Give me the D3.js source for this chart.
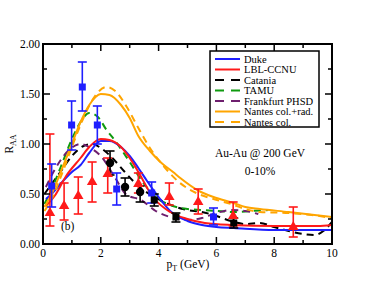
<!DOCTYPE html>
<html><head><meta charset="utf-8">
<script src="https://cdn.jsdelivr.net/npm/d3@7"></script>
<style>html,body{margin:0;padding:0;background:#fff;}svg{display:block;}text{font-family:"Liberation Serif","DejaVu Serif",serif;}</style>
</head><body><svg id="c" width="374" height="289"></svg>
<script>
// ---- data ----
const xTicks = [0,2,4,6,8,10];
const yTicks = [0,0.5,1,1.5,2];
const legendNames = ["Duke","LBL-CCNU","Catania","TAMU","Frankfurt PHSD","Nantes col.+rad.","Nantes col."];
// model curves [pT, RAA]
const duke = [[0.1,0.45],[0.3,0.5],[0.6,0.6],[1.0,0.72],[1.3,0.79],[1.6,0.91],[2.0,1.03],[2.3,1.03],[2.7,0.97],[3.0,0.88],[3.3,0.76],[3.6,0.63],[4.0,0.47],[4.4,0.33],[5.0,0.23],[5.5,0.19],[6.0,0.17],[6.6,0.16],[8,0.14],[10,0.14]];
const lbl = [[0.1,0.38],[0.4,0.48],[0.8,0.68],[1.3,0.86],[1.6,0.97],[2.0,1.05],[2.3,1.04],[2.7,0.97],[3.0,0.86],[3.3,0.72],[3.8,0.47],[4.4,0.32],[5.0,0.25],[5.6,0.21],[6.5,0.19],[8,0.18],[9.5,0.18],[10,0.19]];
const catania = [[0.05,0.5],[0.3,0.6],[0.6,0.72],[1.0,0.88],[1.4,0.98],[1.7,1.0],[2.0,0.96],[2.4,0.86],[2.8,0.73],[3.3,0.58],[3.8,0.48],[4.2,0.42],[4.6,0.37],[5.0,0.34],[5.5,0.32],[6.0,0.28],[6.5,0.23],[7.0,0.20],[7.5,0.21],[8.0,0.17],[8.5,0.13],[9.0,0.10],[9.4,0.09],[9.7,0.13],[10,0.22]];
const tamu = [[0.05,0.40],[0.3,0.55],[0.6,0.76],[1.0,1.05],[1.3,1.22],[1.6,1.31],[1.9,1.27],[2.2,1.14],[2.5,1.03],[3.0,0.82],[3.5,0.60],[3.9,0.47],[4.4,0.39],[5.0,0.35],[5.5,0.34],[6.0,0.33],[6.6,0.32],[7.2,0.33],[7.8,0.34]];
const phsd = [[0.1,0.57],[0.4,0.74],[0.9,0.94],[1.3,1.0],[1.7,0.95],[2.0,0.88],[2.5,0.66],[2.9,0.49],[3.4,0.44],[3.9,0.33],[4.4,0.27],[5.0,0.24],[5.5,0.26],[6.0,0.31],[6.5,0.34],[7.0,0.33],[7.45,0.30]];
const nantesColRad = [[0.05,0.37],[0.3,0.5],[0.6,0.71],[1.0,1.0],[1.3,1.22],[1.6,1.39],[2.0,1.50],[2.3,1.49],[2.7,1.39],[3.0,1.26],[3.3,1.08],[3.7,0.93],[4.1,0.81],[4.5,0.72],[4.75,0.66],[5.4,0.53],[5.9,0.47],[6.6,0.41],[7.0,0.37],[7.5,0.35],[8.5,0.32],[10,0.27]];
const nantesCol = [[0.05,0.33],[0.3,0.45],[0.6,0.66],[1.0,0.97],[1.4,1.26],[1.8,1.48],[2.2,1.57],[2.5,1.53],[2.9,1.37],[3.3,1.16],[3.7,0.96],[4.2,0.77],[4.7,0.62],[5.3,0.51],[5.9,0.45],[6.5,0.40],[7.0,0.35],[7.5,0.32],[8.5,0.31],[9.3,0.29],[10,0.26]];
// experimental data [pT, RAA, low, high]
const blueSquares = [[0.3,0.58,0.37,0.80],[0.99,1.19,0.94,1.43],[1.36,1.57,1.33,1.82],[1.88,1.19,1.0,1.38],[2.55,0.55,0.39,0.71],[3.76,0.51,0.41,0.62],[5.9,0.27,0.19,0.36]];
const redTriangles = [[0.24,0.31,0.18,1.10],[0.73,0.38,0.24,0.61],[1.22,0.48,0.30,0.67],[1.70,0.62,0.42,0.82],[2.24,0.70,0.51,0.86],[3.3,0.60,0.51,0.71],[4.37,0.47,0.39,0.61],[5.37,0.42,0.30,0.55],[6.58,0.28,0.18,0.42],[8.66,0.17,0.07,0.37]];
const blackCircles = [[2.32,0.81,0.69,0.93],[2.84,0.57,0.48,0.66],[3.36,0.52,0.42,0.58]];
const blackSquares = [[3.85,0.44,0.38,0.50],[4.6,0.27,0.22,0.31],[6.6,0.21,0.16,0.26]];

// ---- layout ----
const FONT = "Liberation Serif, DejaVu Serif, serif";
const svg = d3.select("#c");
const L=43, R=332, T=44, B=244;
const x = d3.scaleLinear().domain([0,10]).range([L,R]);
const y = d3.scaleLinear().domain([0,2]).range([B,T]);
const col = {blue:"#1f1fff", red:"#ff1a1a", black:"#000", green:"#0f9a0f", purple:"#6e1f6e", orange:"#ffa500"};

svg.append("clipPath").attr("id","clipP").append("rect").attr("x",L).attr("y",T).attr("width",R-L).attr("height",B-T);
const plot = svg.append("g").attr("clip-path","url(#clipP)");

function axisTicks(){
  const g = svg.append("g").attr("stroke","#000").attr("stroke-width",1.5);
  d3.range(0,10.01,1).forEach(v=>{
    const len = (Math.round(v)%2===0)?7:4;
    g.append("line").attr("x1",x(v)).attr("x2",x(v)).attr("y1",B).attr("y2",B-len);
    g.append("line").attr("x1",x(v)).attr("x2",x(v)).attr("y1",T).attr("y2",T+len);
  });
  d3.range(0,2.001,0.25).forEach(v=>{
    const len = (Math.round(v*4)%2===0)?7:4;
    g.append("line").attr("y1",y(v)).attr("y2",y(v)).attr("x1",L).attr("x2",L+len);
    g.append("line").attr("y1",y(v)).attr("y2",y(v)).attr("x1",R).attr("x2",R-len);
  });
}

const line = d3.line().x(d=>x(d[0])).y(d=>y(d[1])).curve(d3.curveMonotoneX);
const curves = [
  {d:catania, c:col.black, dash:"7,5"},
  {d:tamu, c:col.green, dash:"7,5"},
  {d:phsd, c:col.purple, dash:"7,5"},
  {d:duke, c:col.blue, dash:null},
  {d:lbl, c:col.red, dash:null},
  {d:nantesColRad, c:col.orange, dash:null},
  {d:nantesCol, c:col.orange, dash:"7,5"}
];
curves.forEach(cv=>{
  plot.append("path").datum(cv.d).attr("d",line).attr("fill","none")
    .attr("stroke",cv.c).attr("stroke-width",2).attr("stroke-dasharray",cv.dash);
});

function errBars(data,c){
  const g = plot.append("g").attr("stroke",c).attr("stroke-width",1.6);
  data.forEach(d=>{
    g.append("line").attr("x1",x(d[0])).attr("x2",x(d[0])).attr("y1",y(d[2])).attr("y2",y(d[3]));
    [d[2],d[3]].forEach(v=>g.append("line").attr("x1",x(d[0])-4.5).attr("x2",x(d[0])+4.5).attr("y1",y(v)).attr("y2",y(v)));
  });
}
errBars(redTriangles,col.red);
errBars(blueSquares,col.blue);
errBars(blackSquares,col.black);
errBars(blackCircles,col.black);

plot.append("g").selectAll("path").data(redTriangles).join("path")
  .attr("d",d3.symbol(d3.symbolTriangle,48)).attr("transform",d=>`translate(${x(d[0])},${y(d[1])})`).attr("fill",col.red);
plot.append("g").selectAll("rect").data(blueSquares).join("rect")
  .attr("x",d=>x(d[0])-3.5).attr("y",d=>y(d[1])-3.5).attr("width",7).attr("height",7).attr("fill",col.blue);
plot.append("g").selectAll("rect").data(blackSquares).join("rect")
  .attr("x",d=>x(d[0])-3.5).attr("y",d=>y(d[1])-3.5).attr("width",7).attr("height",7).attr("fill",col.black);
plot.append("g").selectAll("circle").data(blackCircles).join("circle")
  .attr("cx",d=>x(d[0])).attr("cy",d=>y(d[1])).attr("r",4.2).attr("fill",col.black);

axisTicks();
svg.append("rect").attr("x",L).attr("y",T).attr("width",R-L).attr("height",B-T)
  .attr("fill","none").attr("stroke","#000").attr("stroke-width",2);

function txt(g){ return g.append("text").attr("font-family",FONT).attr("font-size",11.5).attr("fill","#000"); }

svg.append("g").selectAll("text").data(xTicks).join("text").attr("font-family",FONT).attr("font-size",11.5)
  .attr("x",d=>x(d)).attr("y",B+13).attr("text-anchor","middle").text(d=>d);
svg.append("g").selectAll("text").data(yTicks).join("text").attr("font-family",FONT).attr("font-size",11.5)
  .attr("x",L-3).attr("y",d=>y(d)+4).attr("text-anchor","end").text(d=>d.toFixed(2));

const xt = txt(svg).attr("x",188).attr("y",268).attr("text-anchor","middle");
xt.append("tspan").text("p");
xt.append("tspan").attr("font-size",8).attr("dy",3).text("T");
xt.append("tspan").attr("dy",-3).text(" (GeV)");
const yt = txt(svg).attr("transform","translate(13,144) rotate(-90)").attr("text-anchor","middle");
yt.append("tspan").text("R");
yt.append("tspan").attr("font-size",8).attr("dy",3).text("AA");

txt(svg).attr("x",260).attr("y",157).attr("text-anchor","middle").text("Au-Au @ 200 GeV");
txt(svg).attr("x",260).attr("y",175).attr("text-anchor","middle").text("0-10%");
txt(svg).attr("x",61).attr("y",230).text("(b)");

const lg = svg.append("g");
lg.append("rect").attr("x",210).attr("y",51).attr("width",109).attr("height",76).attr("fill","#fff").attr("stroke","#000").attr("stroke-width",1.5);
const legendStyles = [curves[3],curves[4],curves[0],curves[1],curves[2],curves[5],curves[6]];
legendNames.forEach((n,i)=>{
  const yy = 59 + i*10.5;
  lg.append("line").attr("x1",215).attr("x2",240).attr("y1",yy).attr("y2",yy)
    .attr("stroke",legendStyles[i].c).attr("stroke-width",2).attr("stroke-dasharray",legendStyles[i].dash?"9,7":null);
  txt(lg).attr("x",244).attr("y",yy+3.5).attr("font-size",10.5).text(n);
});
</script></body></html>
